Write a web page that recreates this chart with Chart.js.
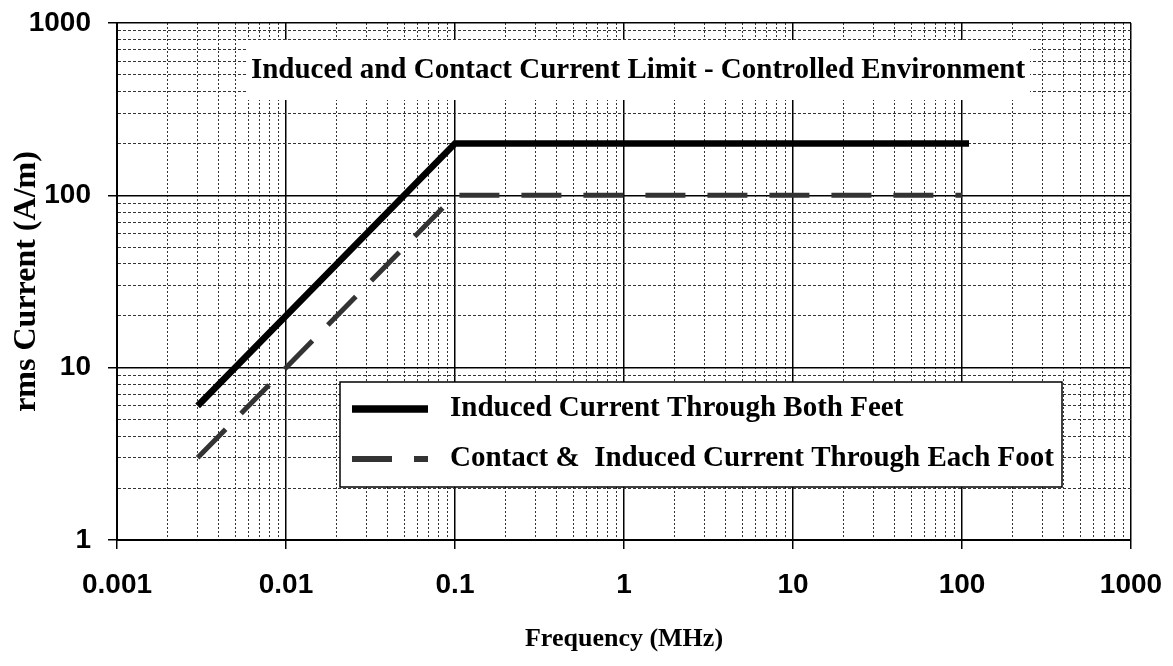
<!DOCTYPE html>
<html>
<head>
<meta charset="utf-8">
<script src="https://cdn.jsdelivr.net/npm/chart.js@4/dist/chart.umd.min.js"></script>
<style>
  html, body { margin: 0; padding: 0; background: #fff; }
  #wrap { width: 1173px; height: 666px; }
</style>
</head>
<body>
<div id="wrap"><canvas id="limits"></canvas></div>
<script>
// limit curves (frequency in MHz)
const bothFeetFreq = [0.003, 0.1, 110];
const bothFeetCurrent = [6, 200, 200];
const eachFootFreq = [0.003, 0.1, 100];
const eachFootCurrent = [3, 100, 100];

const seriesLabels = ['Induced Current Through Both Feet', 'Contact &  Induced Current Through Each Foot'];
const chartTitle = 'Induced and Contact Current Limit - Controlled Environment';

const xDecades = [0.001, 0.01, 0.1, 1, 10, 100, 1000];
const xTickLabels = ['0.001', '0.01', '0.1', '1', '10', '100', '1000'];
const yDecades = [1, 10, 100, 1000];
const yTickLabels = ['1', '10', '100', '1000'];

function toPoints(xs, ys) {
  return xs.map((x, i) => ({ x: x, y: ys[i] }));
}

// 1..9 in every decade, decade starts flagged as major
function logTicks(decades) {
  let out = [];
  decades.forEach((d, i) => {
    if (i == decades.length - 1) { out.push({ value: d, major: true }); return; }
    for (let m = 1; m <= 9; m++) out.push({ value: +(d * m).toPrecision(4), major: m == 1 });
  });
  return out;
}

function labelFor(decades, labels, value) {
  let i = decades.findIndex(d => Math.abs(d - value) < d * 1e-6);
  return i >= 0 ? labels[i] : '';
}

const isMajor = c => c.tick && c.tick.major;

function axisGrid() {
  return {
    color: c => isMajor(c) ? '#000' : '#333',
    lineWidth: c => isMajor(c) ? 1.5 : 1,
    tickColor: c => isMajor(c) ? '#000' : 'rgba(0,0,0,0)',
    tickLength: 9,
    tickWidth: 1.5
  };
}

const serif = '"Liberation Serif", "Times New Roman", serif';
const sans = '"Liberation Sans", Arial, sans-serif';

// white title box + boxed legend drawn over the grid
const overlay = {
  id: 'overlay',
  afterDraw(chart) {
    const ctx = chart.ctx;
    ctx.save();
    ctx.fillStyle = '#fff';
    ctx.fillRect(247, 40, 783, 60);
    ctx.fillStyle = '#000';
    ctx.font = 'bold 29px ' + serif;
    ctx.textAlign = 'center';
    ctx.textBaseline = 'middle';
    ctx.fillText(chartTitle, 638, 71);

    ctx.fillStyle = '#fff';
    ctx.fillRect(340, 382, 722, 105);
    ctx.strokeStyle = '#000';
    ctx.lineWidth = 1.5;
    ctx.strokeRect(340, 382, 722, 105);

    const rows = [409, 459];
    chart.data.datasets.forEach((ds, i) => {
      ctx.strokeStyle = ds.borderColor;
      ctx.lineWidth = ds.borderWidth + 1;
      ctx.setLineDash(ds.borderDash || []);
      ctx.beginPath();
      ctx.moveTo(352, rows[i]);
      ctx.lineTo(428, rows[i]);
      ctx.stroke();
      ctx.setLineDash([]);
      ctx.fillStyle = '#000';
      ctx.font = 'bold 29px ' + serif;
      ctx.textAlign = 'left';
      ctx.fillText(ds.label, 450, rows[i]);
    });
    ctx.restore();
  }
};

new Chart(document.getElementById('limits'), {
  type: 'scatter',
  data: {
    datasets: [{
      label: seriesLabels[0],
      data: toPoints(bothFeetFreq, bothFeetCurrent),
      showLine: true,
      borderColor: '#000',
      borderWidth: 6.5,
      pointRadius: 0
    }, {
      label: seriesLabels[1],
      data: toPoints(eachFootFreq, eachFootCurrent),
      showLine: true,
      borderColor: '#333',
      borderWidth: 5,
      borderDash: [40, 22],
      pointRadius: 0
    }]
  },
  options: {
    responsive: true,
    maintainAspectRatio: false,
    animation: false,
    devicePixelRatio: 1,
    layout: { padding: { left: 8, right: 42, top: 23, bottom: 8 } },
    plugins: { legend: { display: false }, tooltip: { enabled: false } },
    scales: {
      x: {
        type: 'logarithmic',
        min: 0.001,
        max: 1000,
        afterBuildTicks: s => { s.ticks = logTicks(xDecades); },
        afterFit: s => { s.height = 118; s.paddingLeft = 0; s.paddingRight = 0; },
        grid: axisGrid(),
        border: { color: '#000', width: 2, dash: c => isMajor(c) ? [] : [2, 2] },
        ticks: {
          autoSkip: false,
          maxRotation: 0,
          padding: 19,
          color: '#000',
          font: { family: sans, size: 28, weight: 'bold' },
          callback: v => labelFor(xDecades, xTickLabels, v)
        },
        title: {
          display: true,
          text: 'Frequency (MHz)',
          color: '#000',
          font: { family: serif, size: 26, weight: 'bold' },
          padding: { top: 0, bottom: 3 }
        }
      },
      y: {
        type: 'logarithmic',
        min: 1,
        max: 1000,
        afterBuildTicks: s => { s.ticks = logTicks(yDecades); },
        afterFit: s => { s.width = 109; s.paddingTop = 0; s.paddingBottom = 0; },
        grid: axisGrid(),
        border: { color: '#000', width: 2, dash: c => isMajor(c) ? [] : [3, 2] },
        ticks: {
          autoSkip: false,
          padding: 17,
          color: '#000',
          font: { family: sans, size: 28, weight: 'bold' },
          callback: v => labelFor(yDecades, yTickLabels, v)
        },
        title: {
          display: true,
          text: 'rms Current (A/m)',
          color: '#000',
          font: { family: serif, size: 32, weight: 'bold', lineHeight: 1.2 },
          padding: 0
        }
      }
    }
  },
  plugins: [overlay]
});
</script>
</body>
</html>
